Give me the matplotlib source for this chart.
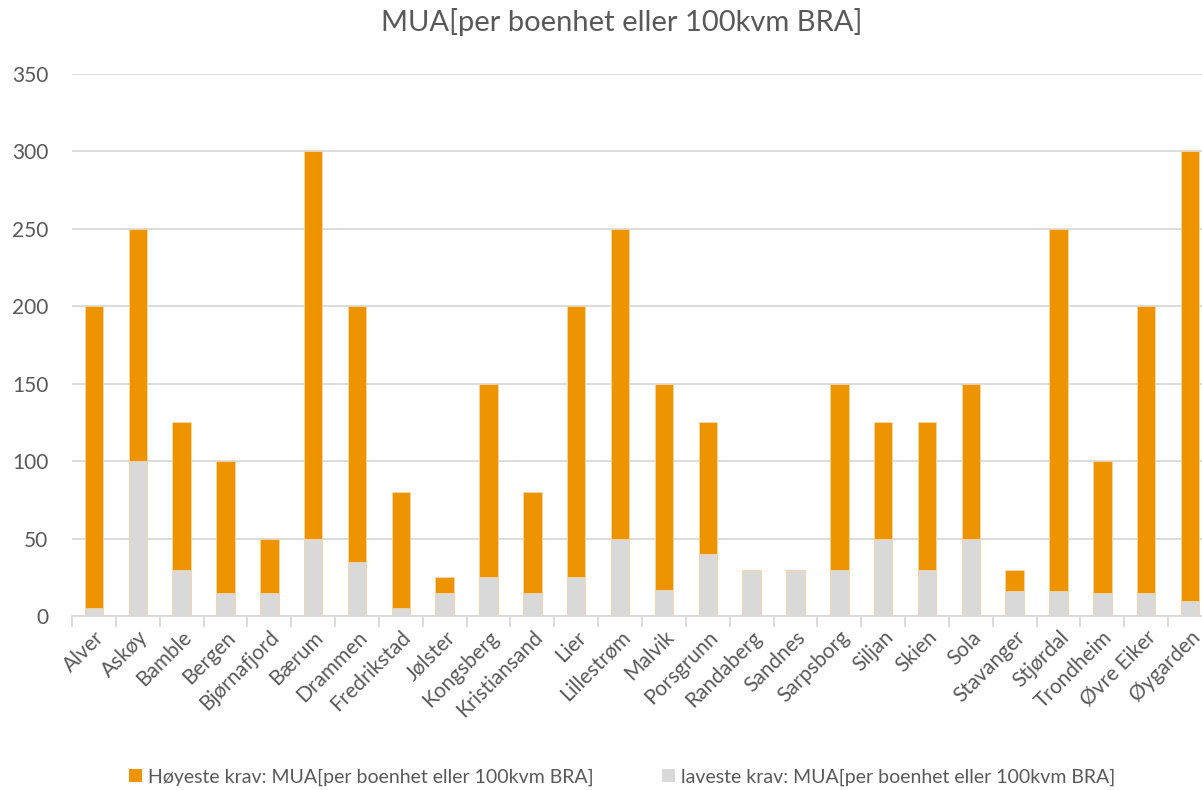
import matplotlib
matplotlib.use("Agg")
import matplotlib.pyplot as plt
import numpy as np
from matplotlib.patches import Patch

categories = ["Alver", "Askøy", "Bamble", "Bergen", "Bjørnafjord", "Bærum", "Drammen",
              "Fredrikstad", "Jølster", "Kongsberg", "Kristiansand", "Lier", "Lillestrøm",
              "Malvik", "Porsgrunn", "Randaberg", "Sandnes", "Sarpsborg", "Siljan", "Skien",
              "Sola", "Stavanger", "Stjørdal", "Trondheim", "Øvre Eiker", "Øygarden"]
hoyeste = [200, 250, 125, 100, 50, 300, 200, 80, 25, 150, 80, 200, 250,
           150, 125, 30, 30, 150, 125, 125, 150, 30, 250, 100, 200, 300]
laveste = [5, 100, 30, 15, 15, 50, 35, 5, 15, 25, 15, 25, 50,
           17, 40, 30, 30, 30, 50, 30, 50, 16, 16, 15, 15, 10]
yticks = [0, 50, 100, 150, 200, 250, 300, 350]

title = "MUA[per boenhet eller 100kvm BRA]"
label_hi = "Høyeste krav: MUA[per boenhet eller 100kvm BRA]"
label_lo = "laveste krav: MUA[per boenhet eller 100kvm BRA]"

ORANGE = "#ED9400"
GREY = "#D9D9D9"
TXT = "#595959"
EDGE = "#F5D7A8"

plt.rcParams['font.family'] = ['Lato', 'DejaVu Sans']

W, H = 1202, 790
fig = plt.figure(figsize=(W / 100, H / 100), dpi=100)
left, right = 72, 1212
top, bottom = 74, 616
ax = fig.add_axes([left / W, 1 - bottom / H, (right - left) / W, (bottom - top) / H])

x = np.arange(len(categories))
bw = 0.42
ax.bar(x, hoyeste, width=bw, color=ORANGE, edgecolor=EDGE, linewidth=0.6, zorder=3)
ax.bar(x, laveste, width=bw, color=GREY, edgecolor=EDGE, linewidth=0.6, zorder=4)

ax.set_xlim(-0.5, len(categories) - 0.5)
ax.set_ylim(0, 350)
ax.set_yticks(yticks)
ax.grid(axis='y', color=GREY, linewidth=1.3, zorder=0)
ax.set_axisbelow(True)
for s in ['left', 'right', 'top']:
    ax.spines[s].set_visible(False)
ax.spines['bottom'].set_color(GREY)
ax.spines['bottom'].set_linewidth(1.3)

ax.tick_params(axis='y', length=0, labelsize=15, labelcolor=TXT, pad=17)
ax.set_xticks(x)
ax.set_xticklabels(categories, rotation=45, ha='right', rotation_mode='anchor',
                   fontsize=15, color=TXT)
ax.tick_params(axis='x', which='major', length=0, pad=8)
ax.set_xticks(np.arange(-0.5, len(categories), 1), minor=True)
ax.tick_params(axis='x', which='minor', length=8, color=GREY, width=1.3)

fig.text(622 / W, 1 - 22 / H, title, ha='center', va='center', fontsize=21,
         color=TXT)

handles = [Patch(facecolor=ORANGE, edgecolor='none'), Patch(facecolor=GREY, edgecolor='none')]
fig.legend(handles, [label_hi, label_lo], loc='center', bbox_to_anchor=(622 / W, 1 - 777 / H),
           ncol=2, frameon=False, fontsize=14, labelcolor=TXT, handlelength=0.7,
           handleheight=0.7, handletextpad=0.3, columnspacing=3.5)

fig.savefig("out.png", dpi=100)
